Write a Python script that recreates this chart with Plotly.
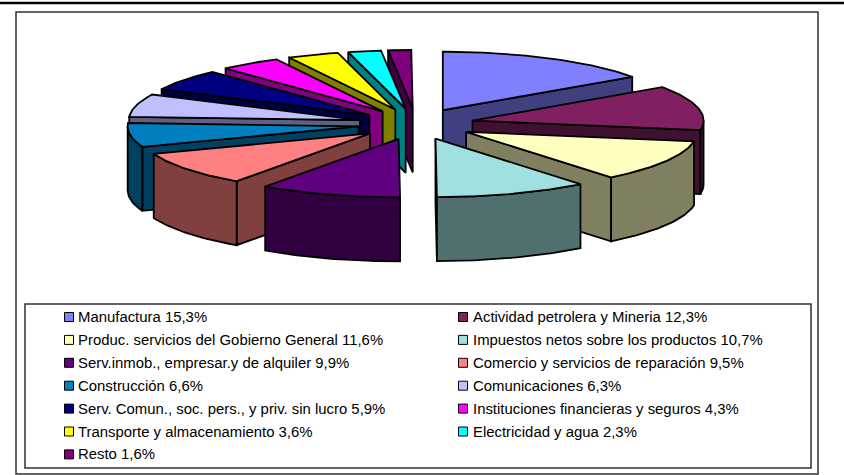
import math
import plotly.graph_objects as go

names = ["Manufactura", "Actividad petrolera y Mineria", "Produc. servicios del Gobierno General",
         "Impuestos netos sobre los productos", "Serv.inmob., empresar.y de alquiler",
         "Comercio y servicios de reparación", "Construcción", "Comunicaciones",
         "Serv. Comun., soc. pers., y priv. sin lucro", "Instituciones financieras y seguros",
         "Transporte y almacenamiento", "Electricidad y agua", "Resto"]
values = [15.3, 12.3, 11.6, 10.7, 9.9, 9.5, 6.6, 6.3, 5.9, 4.3, 3.6, 2.3, 1.6]
top_colors = ["#8080FF", "#802060", "#FFFFC0", "#A0E0E0", "#600080", "#FF8080", "#0080C0",
              "#C0C0FF", "#000080", "#FF00FF", "#FFFF00", "#00FFFF", "#800080"]
side_colors = ["#404080", "#401030", "#808060", "#507070", "#300040", "#804040", "#004060",
               "#606080", "#000040", "#800080", "#808000", "#008080", "#400040"]

CX, CY, EX, EY = 416, 124, 58, 15.5   # pie centre and explosion offsets
A, B, DEPTH = 231, 58.5, 64            # ellipse radii and extrusion


def rim(tip, deg, drop=0):
    t = math.radians(deg)
    return tip[0] + A * math.sin(t), tip[1] - B * math.cos(t) + drop


fig = go.Figure()


def face(pts, color):
    xs = [p[0] for p in pts] + [pts[0][0]]
    ys = [p[1] for p in pts] + [pts[0][1]]
    fig.add_trace(go.Scatter(x=xs, y=ys, mode="lines", fill="toself", fillcolor=color,
                             line=dict(color="#000000", width=1.8), hoverinfo="skip",
                             showlegend=False))


slices = []
cum = 0.0
for i, v in enumerate(values):
    s, e = cum * 3.6, (cum + v) * 3.6
    cum += v
    slices.append((i, s, e, (s + e) / 2))

for i, s, e, m in sorted(slices, key=lambda q: -math.cos(math.radians(q[3]))):
    t = math.radians(m)
    tip = (CX + EX * math.sin(t), CY - EY * math.cos(t))
    low = (tip[0], tip[1] + DEPTH)
    if math.sin(math.radians(s)) < 0:
        face([tip, rim(tip, s), rim(tip, s, DEPTH), low], side_colors[i])
    if math.sin(math.radians(e)) > 0:
        face([tip, rim(tip, e), rim(tip, e, DEPTH), low], side_colors[i])
    a0, a1 = max(s, 90), min(e, 270)
    if a1 > a0:
        n = max(int(a1 - a0), 2)
        arc = [a0 + (a1 - a0) * k / n for k in range(n + 1)]
        face([rim(tip, d) for d in arc] + [rim(tip, d, DEPTH) for d in reversed(arc)], side_colors[i])
    n = max(int(e - s), 2)
    face([tip] + [rim(tip, s + (e - s) * k / n) for k in range(n + 1)], top_colors[i])

# legend: two columns, row by row
annotations = []
COLS = [(69, 76), (463, 471)]
for i, (nm, v) in enumerate(zip(names, values)):
    sx, tx = COLS[i % 2]
    y = 317 + (i // 2) * 22.9
    fig.add_trace(go.Scatter(x=[sx], y=[y], mode="markers", hoverinfo="skip", showlegend=False,
                             marker=dict(symbol="square", size=9, color=top_colors[i],
                                         line=dict(color="#000000", width=1))))
    annotations.append(dict(x=tx, y=y, xref="x", yref="y", xanchor="left", yanchor="middle",
                            text=f"{nm} {str(v).replace('.', ',')}%", showarrow=False,
                            font=dict(family="Liberation Sans, Arial", size=14.9, color="#000000")))

shapes = [
    dict(type="line", x0=0, x1=844, y0=3, y1=3, line=dict(color="#000000", width=2.5)),
    dict(type="rect", x0=16, x1=818, y0=12, y1=474, line=dict(color="#303030", width=1.5)),
    dict(type="rect", x0=25, x1=811, y0=304, y1=468, line=dict(color="#303030", width=1.5)),
]

fig.update_layout(
    width=844, height=475, margin=dict(l=0, r=0, t=0, b=0),
    paper_bgcolor="#FFFFFF", plot_bgcolor="#FFFFFF", showlegend=False,
    xaxis=dict(range=[0, 844], visible=False, fixedrange=True),
    yaxis=dict(range=[475, 0], visible=False, fixedrange=True),
    shapes=shapes, annotations=annotations,
)
fig.write_html("out.html", config={"displayModeBar": False},
               post_script="document.body.style.margin='0';document.body.style.overflow='hidden';")
